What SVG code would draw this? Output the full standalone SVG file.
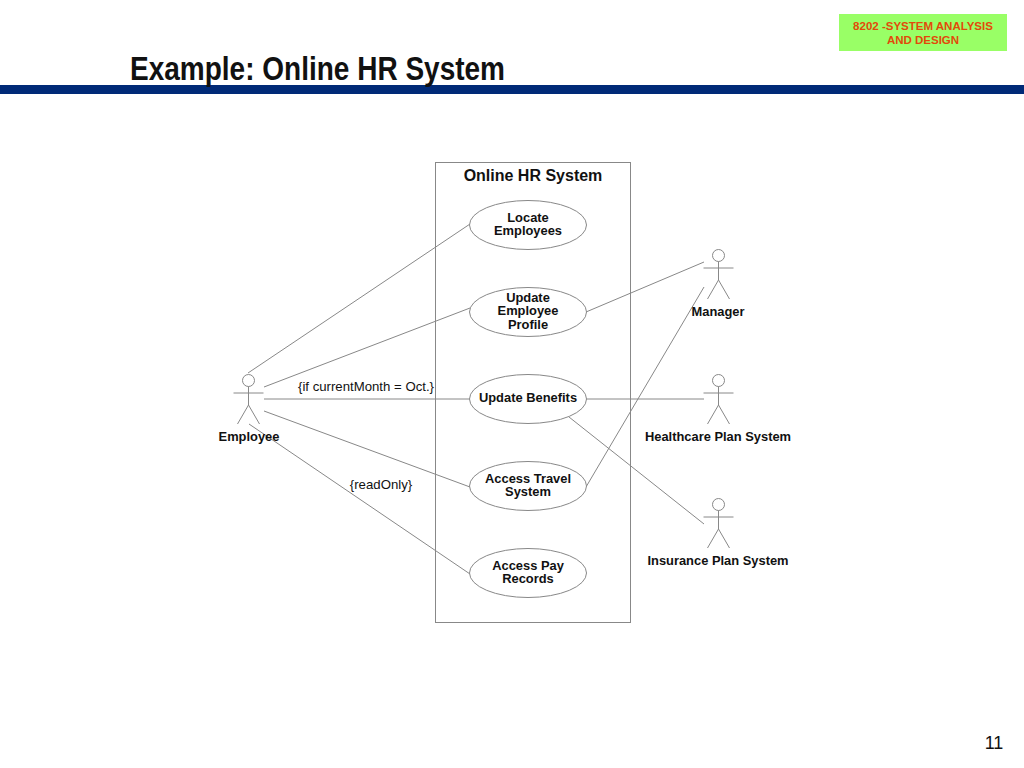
<svg xmlns="http://www.w3.org/2000/svg" width="1024" height="768" viewBox="0 0 1024 768">
<style>
text{font-family:"Liberation Sans",Arial,sans-serif;text-anchor:middle;fill:#111}
.l{font-size:12.900px;font-weight:bold;stroke:none}
.n{font-size:13.200px}
.s{fill:none;stroke:#888;stroke-width:1}
.e{fill:#fff;stroke:#888;stroke-width:1}
</style>
<defs>
<g id="actor" class="s">
<circle cx="0" cy="6.500" r="6"/>
<path d="M0 12.500V31M-15 19H15M0 31L-11 50M0 31L11 50"/>
</g>
</defs>
<rect width="1024" height="768" fill="#fff"/>
<g id="header">
<rect x="0" y="85" width="1024" height="9" fill="#002a77"/>
<text x="130" y="80" font-size="34" font-weight="bold" textLength="375" lengthAdjust="spacingAndGlyphs" style="text-anchor:start">Example: Online HR System</text>
<rect x="839" y="14" width="168" height="37" fill="#99ff66"/>
<text x="923" y="30" font-size="11.500" font-weight="bold" style="fill:#e24a0a">8202 -SYSTEM ANALYSIS</text>
<text x="923" y="44" font-size="11.500" font-weight="bold" style="fill:#e24a0a">AND DESIGN</text>
<text x="994" y="749" font-size="18">11</text>
</g>
<g id="system">
<rect x="435.500" y="162.500" width="195" height="460" fill="#fff" stroke="#888"/>
<text x="533" y="181" font-size="16" font-weight="bold">Online HR System</text>
</g>
<g id="connectors" class="s">
<path d="M248 373L470 224"/>
<path d="M264 387L470 308"/>
<path d="M264 399H470"/>
<path d="M264 411L470 487"/>
<path d="M249 424L470 574"/>
<path d="M586 312L704 262"/>
<path d="M586 487L704 287"/>
<path d="M586 399H704"/>
<path d="M569 417L704 524"/>
</g>
<g id="uc-locate"><ellipse class="e" cx="528" cy="225" rx="58.500" ry="24.500"/><text class="l" x="528" y="222">Locate</text><text class="l" x="528" y="235">Employees</text></g>
<g id="uc-profile"><ellipse class="e" cx="528" cy="312" rx="58.500" ry="24.500"/><text class="l" x="528" y="302">Update</text><text class="l" x="528" y="315">Employee</text><text class="l" x="528" y="329">Profile</text></g>
<g id="uc-benefits"><ellipse class="e" cx="528" cy="399" rx="58.500" ry="24.500"/><text class="l" x="528" y="402">Update Benefits</text></g>
<g id="uc-travel"><ellipse class="e" cx="528" cy="486" rx="58.500" ry="24.500"/><text class="l" x="528" y="483">Access Travel</text><text class="l" x="528" y="496">System</text></g>
<g id="uc-pay"><ellipse class="e" cx="528" cy="573" rx="58.500" ry="24.500"/><text class="l" x="528" y="570">Access Pay</text><text class="l" x="528" y="583">Records</text></g>
<g id="actor-employee"><use href="#actor" x="248.500" y="374"/><text class="l" x="249" y="441">Employee</text></g>
<g id="actor-manager"><use href="#actor" x="718.500" y="249"/><text class="l" x="718" y="316">Manager</text></g>
<g id="actor-healthcare"><use href="#actor" x="718.500" y="374"/><text class="l" x="718" y="441">Healthcare Plan System</text></g>
<g id="actor-insurance"><use href="#actor" x="718.500" y="498"/><text class="l" x="718" y="565">Insurance Plan System</text></g>
<g id="labels">
<text class="n" x="366" y="391">{if currentMonth = Oct.}</text>
<text class="n" x="381" y="489">{readOnly}</text>
</g>
</svg>
